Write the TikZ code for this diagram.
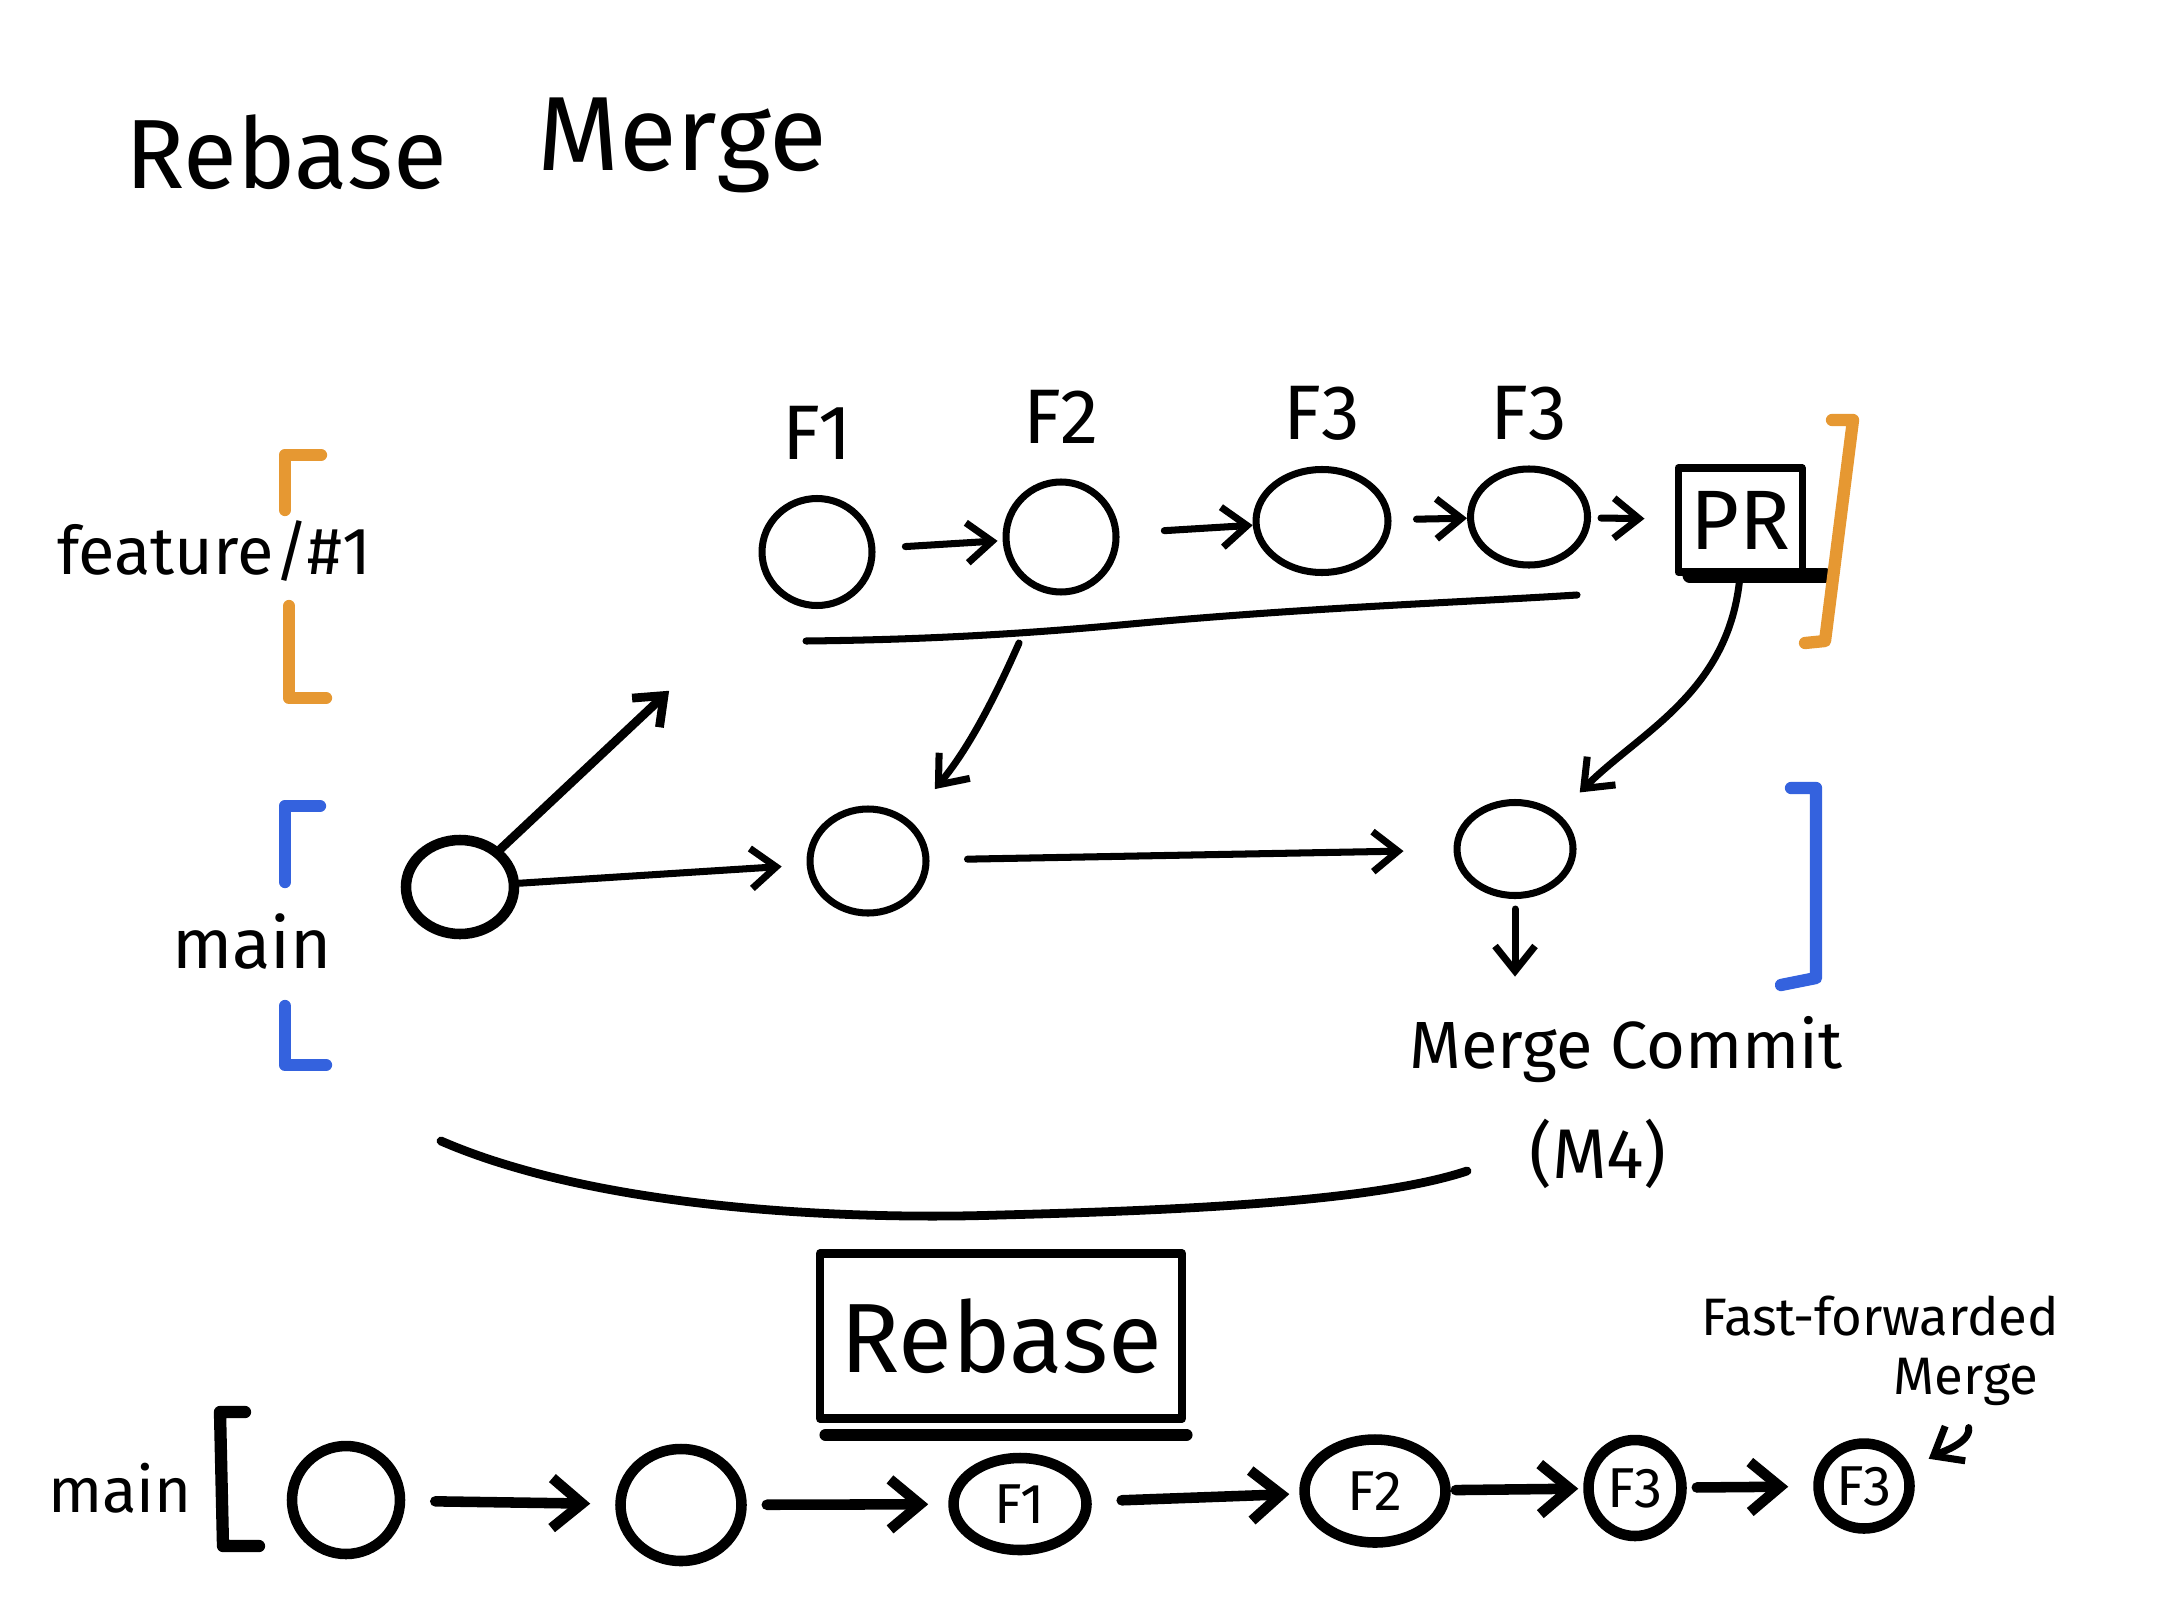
\documentclass[tikz,border=0pt]{standalone}
\usepackage{fontspec}
\setmainfont{Fira Sans}
\usepackage{xcolor}
\usetikzlibrary{arrows.meta,positioning,shapes.geometric}
\definecolor{featorange}{RGB}{230,152,50}
\definecolor{mainblue}{RGB}{52,98,222}

\begin{document}
\begin{tikzpicture}[line width=2pt,line cap=round,line join=round,node distance=2mm,
   commit/.style={draw,ellipse,inner sep=0pt,line width=2pt},
   newcommit/.style={draw,ellipse,inner sep=0pt,line width=3pt,font=\fontsize{16}{18}\selectfont},
   lbl/.style={font=\fontsize{22}{24}\selectfont},
   arr/.style={-{Straight Barb[length=2.5mm,width=4mm]},line width=2pt},
   bigarr/.style={-{Straight Barb[length=3mm,width=5mm]},line width=3pt},
   bracket/.style={line width=3.5pt}]
  \useasboundingbox (0,0) rectangle (21.6,-16.2);
  % title
  \node[font=\fontsize{28}{32}\selectfont] (t1) at (2.86,-1.52) {Rebase};
  \node[font=\fontsize{30}{34}\selectfont] (t2) at (6.82,-1.45) {Merge};

  % feature branch
  \node[commit,minimum width=1.10cm,minimum height=1.07cm] (f1) at (8.17,-5.52) {};
  \node[commit,minimum width=1.10cm,minimum height=1.10cm] (f2) at (10.61,-5.37) {};
  \node[commit,minimum width=1.32cm,minimum height=1.03cm] (f3) at (13.22,-5.21) {};
  \node[commit,minimum width=1.17cm,minimum height=0.96cm] (f4) at (15.29,-5.17) {};
  \node[draw,rectangle,minimum width=1.24cm,minimum height=1.04cm,font=\fontsize{24}{26}\selectfont] (pr) at (17.40,-5.20) {PR};
  \draw[line width=4pt] ([xshift=1.5mm]pr.south west) -- ([xshift=2mm]pr.south east);
  \node[lbl,above=2mm of f1] (lf1) {F1};
  \node[lbl,above=2mm of f2] (lf2) {F2};
  \node[lbl,above=1mm of f3] (lf3) {F3};
  \node[lbl,above=1mm of f4] (lf4) {F3};
  \draw[arr,shorten <=3mm,shorten >=0.5mm] (f1) -- (f2);
  \draw[arr,shorten <=4.5mm] (f2) -- (f3);
  \draw[arr,shorten <=2.5mm] (f3) -- (f4);
  \draw[arr,shorten <=1mm,shorten >=3mm] (f4) -- (pr);

  % main branch
  \node[commit,line width=3pt,minimum width=1.08cm,minimum height=0.94cm] (m1) at (4.60,-8.87) {};
  \node[commit,minimum width=1.16cm,minimum height=1.04cm] (m2) at (8.68,-8.61) {};
  \node[commit,minimum width=1.16cm,minimum height=0.93cm] (m3) at (15.15,-8.49) {};
  \draw[arr,shorten >=2.5mm] (m1) -- (m2);
  \draw[arr,shorten <=3.8mm,shorten >=5mm] (m2) -- (m3);
  \draw[arr,line width=2.5pt,shorten >=14.5mm] (m1) -- (f1);

  % rebased commits go down to main
  \draw (8.06,-6.41) .. controls (9.0,-6.40) and (10.0,-6.36) .. (11.2,-6.25)
        .. controls (13.0,-6.08) and (14.5,-6.03) .. (15.77,-5.95);
  \coordinate (fbar) at (10.19,-6.43);
  \draw[arr,shorten >=4mm] (fbar) to[bend left=8] (m2.45);
  \draw[arr,shorten >=3mm] (pr.south) to[out=-95,in=45] (m3.north east);

  \node[font=\fontsize{19}{21}\selectfont] (mclbl) at (16.26,-10.50) {Merge Commit};
  \node[font=\fontsize{20}{22}\selectfont,below=0.5mm of mclbl,xshift=-2.8mm] (m4lbl) {(M4)};
  \draw[arr,shorten <=1mm,shorten >=2.5mm] (m3) -- (mclbl.north -| m3);

  % branch labels and brackets
  \node[font=\fontsize{19}{21}\selectfont] (featlbl) at (2.14,-5.51) {feature/\#1};
  \draw[bracket,featorange] (3.21,-4.55) -- (2.85,-4.55) -- (2.85,-5.10);
  \draw[bracket,featorange] (2.89,-6.06) -- (2.89,-6.98) -- (3.26,-6.98);
  \draw[bracket,featorange] (18.32,-4.20) -- (18.53,-4.20) -- (18.25,-6.41) -- (18.05,-6.43);
  \node[font=\fontsize{20}{22}\selectfont] (mainlbl) at (2.52,-9.41) {main};
  \draw[bracket,mainblue] (3.20,-8.06) -- (2.85,-8.06) -- (2.85,-8.82);
  \draw[bracket,mainblue] (2.85,-10.06) -- (2.85,-10.65) -- (3.26,-10.65);
  \draw[bracket,mainblue] (17.91,-7.88) -- (18.16,-7.88) -- (18.16,-9.78) -- (17.81,-9.85);

  \draw[line width=2.5pt] (4.41,-11.41) .. controls (6.0,-12.1) and (8.5,-12.2) .. (10.0,-12.15)
        .. controls (12.0,-12.1) and (13.8,-12.0) .. (14.67,-11.71);

  % rebase result
  \node[draw,rectangle,line width=2.5pt,minimum width=3.62cm,minimum height=1.65cm,
        font=\fontsize{28}{30}\selectfont] (rb) at (10.01,-13.36) {Rebase};
  \draw[line width=3.5pt] ([xshift=1mm,yshift=-1.2mm]rb.south west) -- ([yshift=-1.2mm]rb.south east);

  \node[font=\fontsize{18}{20}\selectfont] (mainlbl2) at (1.20,-14.88) {main};
  \draw[bracket] (2.45,-14.12) -- (2.20,-14.12) -- (2.23,-15.46) -- (2.59,-15.46);
  \node[newcommit,minimum width=1.08cm,minimum height=1.08cm] (b1) at (3.46,-15.00) {};
  \node[newcommit,minimum width=1.21cm,minimum height=1.12cm] (b2) at (6.81,-15.05) {};
  \node[newcommit,minimum width=1.33cm,minimum height=0.92cm] (b3) at (10.20,-15.04) {F1};
  \node[newcommit,minimum width=1.41cm,minimum height=1.03cm] (b4) at (13.75,-14.91) {F2};
  \node[newcommit,minimum width=0.93cm,minimum height=0.96cm] (b5) at (16.35,-14.88) {F3};
  \node[newcommit,minimum width=0.91cm,minimum height=0.85cm] (b6) at (18.64,-14.86) {F3};
  \draw[bigarr,shorten <=3mm,shorten >=2.5mm] (b1) -- (b2);
  \draw[bigarr,shorten <=2mm,shorten >=2mm] (b2) -- (b3);
  \draw[bigarr,shorten <=3mm,shorten >=1mm] (b3) -- (b4);
  \draw[bigarr,shorten <=0.5mm,shorten >=0.5mm] (b4) -- (b5);
  \draw[bigarr,shorten <=1mm,shorten >=2.5mm] (b5) -- (b6);

  \node[font=\fontsize{15}{17}\selectfont,inner sep=1pt] (fflbl) at (18.80,-13.16) {Fast-forwarded};
  \node[font=\fontsize{15}{17}\selectfont,inner sep=1pt] (ffmerge) at (19.66,-13.82) {Merge};
  \draw[arr,shorten <=1.5mm,shorten >=2mm] (ffmerge.south) to[out=-80,in=30] (b6.20);
\end{tikzpicture}
\end{document}
